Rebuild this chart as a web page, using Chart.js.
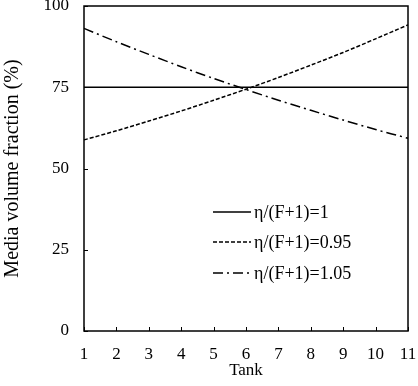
<!DOCTYPE html>
<html><head><meta charset="utf-8">
<script src="https://cdn.jsdelivr.net/npm/chart.js@4"></script>
<style>html,body{margin:0;padding:0;background:#fff;}#wrap{width:418px;height:386px;}</style>
</head><body><div id="wrap"><canvas id="c" width="418" height="386"></canvas></div>
<script>
const tanks = ['1','2','3','4','5','6','7','8','9','10','11'];
const seriesA = [75,75,75,75,75,75,75,75,75,75,75];
const seriesB = [58.8,61.6,64.6,67.7,71.0,74.4,78.0,81.8,85.7,89.9,94.2];
const seriesC = [93.1,89.0,85.1,81.3,77.7,74.3,71.0,67.9,64.9,62.0,59.3];
const labelA = 'η/(F+1)=1';
const labelB = 'η/(F+1)=0.95';
const labelC = 'η/(F+1)=1.05';
const yTicks = [0,25,50,75,100];

const FONT = 'Liberation Serif, Times New Roman, serif';

const framePlugin = {
  id: 'frame',
  afterDatasetsDraw(chart) {
    const ctx = chart.ctx, a = chart.chartArea;
    const xs = chart.scales.x, ys = chart.scales.y;
    ctx.save();
    ctx.strokeStyle = '#000';
    ctx.lineWidth = 1.5;
    ctx.strokeRect(a.left, a.top, a.right - a.left, a.bottom - a.top);
    ctx.lineWidth = 1;
    ctx.beginPath();
    for (let i = 0; i < tanks.length; i++) {
      const x = Math.round(xs.getPixelForValue(i)) + 0.5;
      ctx.moveTo(x, a.bottom); ctx.lineTo(x, a.bottom - 4);
    }
    yTicks.forEach(v => {
      const y = Math.round(ys.getPixelForValue(v)) + 0.5;
      ctx.moveTo(a.left, y); ctx.lineTo(a.left + 4, y);
    });
    ctx.stroke();
    // legend
    const items = chart.data.datasets;
    const lx0 = 213, lx1 = 251, tx = 254;
    const ysL = [212, 242, 273];
    ctx.font = '18px ' + FONT;
    ctx.textBaseline = 'middle';
    ctx.fillStyle = '#000';
    items.forEach((d, i) => {
      ctx.beginPath();
      ctx.setLineDash(d.borderDash || []);
      ctx.lineWidth = d.borderWidth;
      ctx.moveTo(lx0, ysL[i]); ctx.lineTo(lx1, ysL[i]);
      ctx.stroke();
      ctx.setLineDash([]);
      ctx.fillText(d.label, tx, ysL[i] + 1);
    });
    ctx.restore();
  }
};

new Chart(document.getElementById('c'), {
  type: 'line',
  data: {
    labels: tanks,
    datasets: [
      {label: labelA, data: seriesA, borderColor: '#000', borderWidth: 1.5, pointRadius: 0, fill: false, tension: 0},
      {label: labelB, data: seriesB, borderColor: '#000', borderWidth: 1.5, borderDash: [4, 2], pointRadius: 0, fill: false, tension: 0.3},
      {label: labelC, data: seriesC, borderColor: '#000', borderWidth: 1.5, borderDash: [10, 4, 2, 4], pointRadius: 0, fill: false, tension: 0.3}
    ]
  },
  options: {
    responsive: false,
    animation: false,
    layout: {padding: {left: 0, top: 6, right: 10, bottom: 0}},
    plugins: {legend: {display: false}, tooltip: {enabled: false}},
    scales: {
      x: {
        grid: {display: false, drawTicks: false},
        border: {display: false},
        ticks: {color: '#000', font: {family: FONT, size: 17}, padding: 13, maxRotation: 0, autoSkip: false},
        title: {display: true, text: 'Tank', color: '#000', font: {family: FONT, size: 17}, padding: {top: 0, bottom: 5}},
        afterFit(s) { s.height = 55; s.paddingLeft = 0; s.paddingRight = 0; }
      },
      y: {
        min: 0, max: 100,
        afterBuildTicks(s) { s.ticks = yTicks.map(v => ({value: v})); },
        grid: {display: false, drawTicks: false},
        border: {display: false},
        ticks: {color: '#000', font: {family: FONT, size: 17}, padding: 15},
        title: {display: true, text: 'Media volume fraction (%)', color: '#000', font: {family: FONT, size: 20}, padding: {top: 1, bottom: 0}},
        afterFit(s) { s.width = 84; s.paddingTop = 0; s.paddingBottom = 0; }
      }
    }
  },
  plugins: [framePlugin]
});
</script></body></html>
